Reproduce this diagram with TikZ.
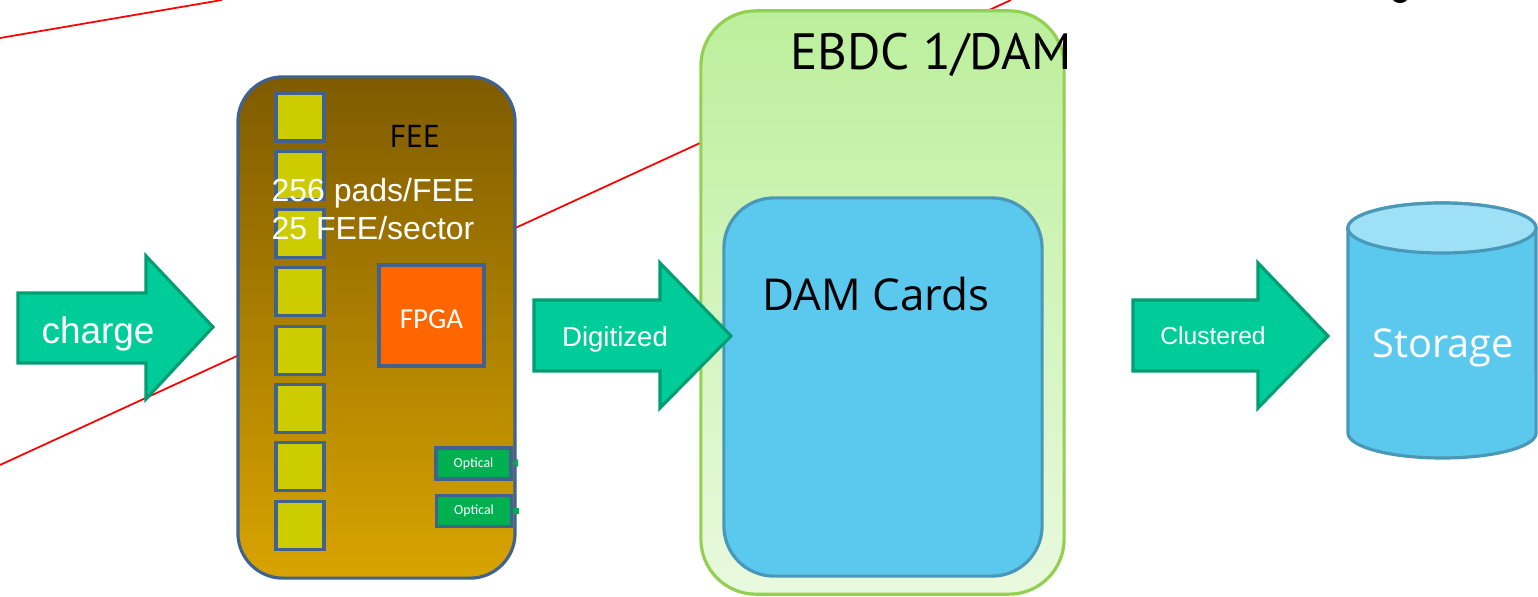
\documentclass[tikz,border=0pt]{standalone}
\usepackage{fontspec}
\setmainfont{Liberation Sans}
\newfontfamily\calibrifont{Carlito}
\newfontfamily\segoefont{Open Sans}
\newfontfamily\titlefont{PT Sans}
\definecolor{arrowfill}{HTML}{00CC99}
\definecolor{arrowedge}{HTML}{009E73}
\definecolor{feetop}{HTML}{7F5B00}
\definecolor{feebottom}{HTML}{D9A400}
\definecolor{feeedge}{HTML}{3F6290}
\definecolor{padfill}{HTML}{CCCC00}
\definecolor{fpgafill}{HTML}{FF6600}
\definecolor{opticalfill}{HTML}{00B050}
\definecolor{ebdctop}{HTML}{BCEF9C}
\definecolor{ebdcbottom}{HTML}{E9F9DE}
\definecolor{ebdcedge}{HTML}{92D050}
\definecolor{damfill}{HTML}{5BC8EE}
\definecolor{damedge}{HTML}{4A98B8}
\definecolor{storagetop}{HTML}{9EE0F5}
\usetikzlibrary{positioning}

\begin{document}
\begin{tikzpicture}[x=0.01cm, y=-0.01cm,
						bigarrow/.style={fill=arrowfill, draw=arrowedge, line width=0.9pt, line join=miter},
						arrowtext/.style={text=white, inner sep=0pt, anchor=base},
						feebox/.style={draw=feeedge, top color=feetop, bottom color=feebottom, line width=0.9pt, rounded corners=0.45cm, minimum width=2.77cm, minimum height=5.01cm},
						pad/.style={draw=feeedge, fill=padfill, line width=0.9pt, minimum width=0.48cm, minimum height=0.48cm},
						fpgabox/.style={draw=feeedge, fill=fpgafill, line width=0.9pt, minimum width=1.05cm, minimum height=1.01cm},
						opticalbox/.style={draw=feeedge, fill=opticalfill, line width=1.1pt, minimum width=0.75cm, minimum height=0.31cm, inner sep=0pt},
						ebdcbox/.style={draw=ebdcedge, top color=ebdctop, bottom color=ebdcbottom, line width=0.9pt, rounded corners=0.55cm, minimum width=3.63cm, minimum height=5.83cm},
						dambox/.style={draw=damedge, fill=damfill, line width=0.9pt, rounded corners=0.5cm, minimum width=3.18cm, minimum height=3.78cm},
						label/.style={inner sep=0pt, anchor=base}
					]
					\useasboundingbox (0,0) rectangle (1538,597);
					\clip (0,0) rectangle (1538,597);
					\fill[white] (0,0) rectangle (1538,597);

					% red projection lines
					\coordinate (lineAa) at (0,38);
					\coordinate (lineAb) at (222,0);
					\coordinate (lineBa) at (0,465);
					\coordinate (lineBb) at (1011,0);
					\draw[red, line width=0.5pt] (lineAa) -- (lineAb);
					\draw[red, line width=0.5pt] (lineBa) -- (lineBb);

					% front end card
					\node[feebox] (fee) at (376.5,327.5) {};
					\foreach \i in {0,...,7}
						\node[pad] (pad\i) at (300,{117+58.3*\i}) {};
					\node[label, font=\titlefont\fontsize{9}{10}\selectfont] (feetitle) at (415,147) {FEE};
					\node[label, text=white, font=\fontsize{9.1}{11.1}\selectfont] (padsline) at (373,201) {256 pads/FEE};
					\node[label, text=white, font=\fontsize{9.1}{11.1}\selectfont] (sectorline) at (373,239) {25 FEE/sector};
					\node[fpgabox] (fpga) at (431.5,315.5) {};
					\node[label, text=white, font=\calibrifont\fontsize{8.25}{9}\selectfont] at (431.5,328) {FPGA};
					\node[opticalbox, font=\calibrifont\fontsize{3.95}{4.5}\selectfont, text=white] (optA) at (473.5,463.5) {Optical};
					\node[opticalbox, font=\calibrifont\fontsize{3.95}{4.5}\selectfont, text=white] (optB) at (474,511) {Optical};
					\fill[opticalfill] (512,463) -- (518,459) -- (518,467) -- cycle;
					\fill[opticalfill] (513,508) rectangle (519,514);

					% event builder
					\node[ebdcbox] (ebdc) at (882.5,302.5) {};
					\node[label, font=\titlefont\fontsize{14.5}{16}\selectfont] (ebdctitle) at (931,70) {EBDC 1/DAM};
					\node[dambox] (dam) at (883,387) {};
					\node[label, font=\segoefont\fontsize{12.5}{14}\selectfont] (damtitle) at (876,310) {DAM Cards};

					% storage
					\draw[draw=damedge, fill=damfill, line width=0.9pt] (1348,228) -- (1348,433) arc[start angle=180, end angle=360, x radius=0.94cm, y radius=0.25cm] -- (1536,228) arc[start angle=0, end angle=180, x radius=0.94cm, y radius=0.25cm] -- cycle;
					\draw[draw=damedge, fill=storagetop, line width=0.9pt] (1442,228) ellipse [x radius=0.94cm, y radius=0.25cm];
					\node[label, text=white, font=\segoefont\fontsize{11.3}{13}\selectfont] (storage) at (1443,357) {Storage};

					% flow arrows
					\draw[bigarrow] (18,293) -- (146,293) -- (146,256) -- (213,327) -- (146,399) -- (146,363) -- (18,363) -- cycle;
					\node[arrowtext, font=\fontsize{10.5}{12}\selectfont] (charge) at (98,343) {charge};
					\draw[bigarrow] (534,300) -- (660,300) -- (660,263) -- (731,336) -- (660,408) -- (660,371) -- (534,371) -- cycle;
					\node[arrowtext, font=\fontsize{7.85}{9}\selectfont] (digitized) at (615,346) {Digitized};
					\draw[bigarrow] (1133,300) -- (1258,300) -- (1258,263) -- (1328,336) -- (1258,408) -- (1258,371) -- (1133,371) -- cycle;
					\node[arrowtext, font=\fontsize{7}{8}\selectfont] (clustered) at (1213,344) {Clustered};

					% cut off glyph at the top edge
					\fill[black] (1400,-3) ellipse [x radius=0.08cm, y radius=0.06cm];
				\end{tikzpicture}
\end{document}
